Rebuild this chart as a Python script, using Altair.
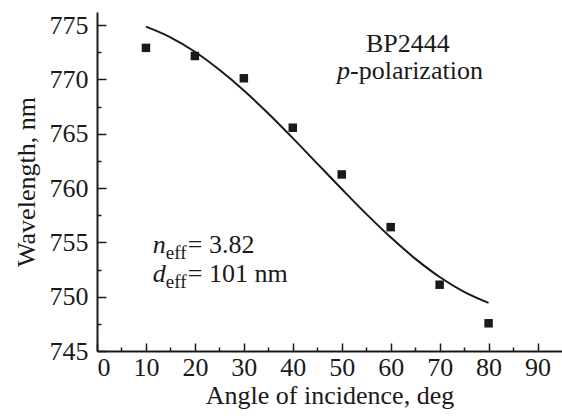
import altair as alt
import pandas as pd

# measured points
angle_pts = [10, 20, 30, 40, 50, 60, 70, 80]
wl_pts = [772.9, 772.15, 770.1, 765.55, 761.25, 756.4, 751.1, 747.55]

# fitted curve
angle_fit = [10, 15, 20, 25, 30, 35, 40, 45, 50, 55, 60, 65, 70, 75, 80]
wl_fit = [774.85, 773.87, 772.54, 770.88, 768.98, 766.86, 764.59, 762.25,
          759.91, 757.62, 755.46, 753.50, 751.81, 750.44, 749.43]

x_major = [0, 10, 20, 30, 40, 50, 60, 70, 80, 90]
x_minor = [5, 15, 25, 35, 45, 55, 65, 75, 85]
y_major = [745, 750, 755, 760, 765, 770, 775]
y_minor = [747.5, 752.5, 757.5, 762.5, 767.5, 772.5]

# annotations
title_lines = ["BP2444"]
pol_italic = ["p"]
pol_rest = ["-polarization"]
param_vars = ["n", "d"]
param_sub = ["eff", "eff"]
param_vals = ["= 3.82", "= 101 nm"]
param_y = [754.0, 751.35]

FONT = "'Liberation Serif', 'Times New Roman', Times, serif"
FS = 26
INK = "#1a1a1a"

pts = pd.DataFrame({"angle": angle_pts, "wl": wl_pts})
fit = pd.DataFrame({"angle": angle_fit, "wl": wl_fit})

xs = alt.Scale(domain=[0, 95], nice=False, zero=False)
ys = alt.Scale(domain=[745, 776.2], nice=False, zero=False)

main_x = alt.Axis(values=x_major, tickSize=0, labelPadding=3, title="Angle of incidence, deg",
                  titlePadding=2, domainWidth=2, grid=False, orient="bottom")
main_y = alt.Axis(values=y_major, tickSize=0, labelPadding=9, title="Wavelength, nm",
                  titlePadding=10, domainWidth=2, grid=False, orient="left")

points = alt.Chart(pts).mark_point(shape="square", filled=True, size=72, color=INK, opacity=1).encode(
    x=alt.X("angle:Q", scale=xs, axis=main_x),
    y=alt.Y("wl:Q", scale=ys, axis=main_y),
)

tick_major_x = alt.Axis(values=x_major, tickSize=8, offset=-8, domain=False, labels=False,
                        title=None, grid=False, orient="bottom", tickWidth=1.5)
tick_major_y = alt.Axis(values=y_major, tickSize=9, offset=-9, domain=False, labels=False,
                        title=None, grid=False, orient="left", tickWidth=1.5)

line = alt.Chart(fit).mark_line(color=INK, strokeWidth=2, interpolate="monotone").encode(
    x=alt.X("angle:Q", scale=xs, axis=tick_major_x),
    y=alt.Y("wl:Q", scale=ys, axis=tick_major_y),
)

tick_minor_x = alt.Axis(values=x_minor, tickSize=4, offset=-4, domain=False, labels=False,
                        title=None, grid=False, orient="bottom", tickWidth=1.5)
tick_minor_y = alt.Axis(values=y_minor, tickSize=4, offset=-4, domain=False, labels=False,
                        title=None, grid=False, orient="left", tickWidth=1.5)

minor = alt.Chart(pts).mark_point(opacity=0).encode(
    x=alt.X("angle:Q", scale=xs, axis=tick_minor_x),
    y=alt.Y("wl:Q", scale=ys, axis=tick_minor_y),
)

def tx(df, **kw):
    return alt.Chart(df).mark_text(font=FONT, baseline="alphabetic", color=INK, **kw).encode(
        x=alt.X("x:Q", scale=xs, axis=None), y=alt.Y("y:Q", scale=ys, axis=None), text="t:N")

t1 = tx(pd.DataFrame({"x": [63.5], "y": [772.52], "t": title_lines}), fontSize=FS, align="center")
t2a = tx(pd.DataFrame({"x": [51.7], "y": [770.04], "t": pol_italic}), fontSize=FS,
         fontStyle="italic", align="right")
t2b = tx(pd.DataFrame({"x": [51.7], "y": [770.04], "t": pol_rest}), fontSize=FS, align="left")

p1 = tx(pd.DataFrame({"x": [11.4, 11.4], "y": param_y, "t": param_vars}), fontSize=FS,
        fontStyle="italic", align="left")
p2 = tx(pd.DataFrame({"x": [11.4, 11.4], "y": param_y, "t": param_sub}), fontSize=19,
        align="left", dx=13, dy=6)
p3 = tx(pd.DataFrame({"x": [11.4, 11.4], "y": param_y, "t": param_vals}), fontSize=FS,
        align="left", dx=35)

chart = alt.layer(points, line, minor, t1, t2a, t2b, p1, p2, p3).resolve_axis(
    x="independent", y="independent"
).properties(
    width=465, height=339,
    autosize=alt.AutoSizeParams(type="none"),
    padding={"left": 97, "top": 12, "right": 0, "bottom": 67},
    background="white",
).configure_view(stroke=None).configure_axis(
    labelFont=FONT, titleFont=FONT, labelFontSize=FS, titleFontSize=FS,
    titleFontWeight="normal", labelColor=INK, titleColor=INK,
    domainColor=INK, tickColor=INK,
)

chart.save("out.html", embed_options={"renderer": "svg", "actions": False})
